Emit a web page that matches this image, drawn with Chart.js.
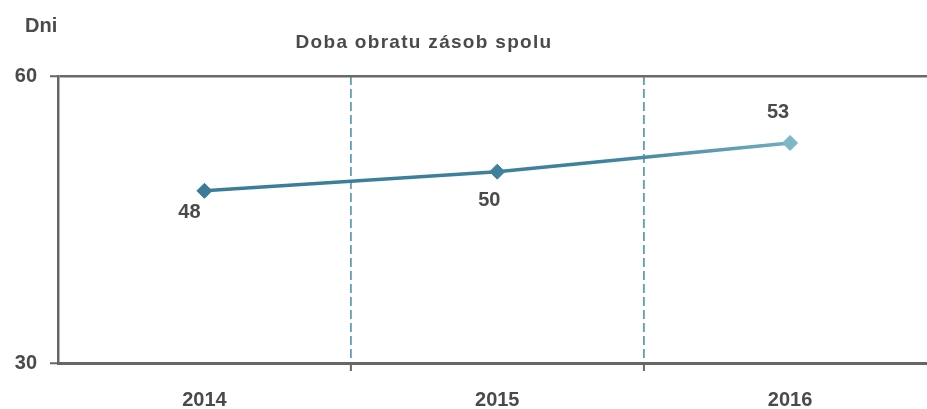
<!DOCTYPE html>
<html>
<head>
<meta charset="utf-8">
<script src="https://cdn.jsdelivr.net/npm/chart.js@4.4.0/dist/chart.umd.min.js"></script>
<style>
  html, body { margin: 0; padding: 0; background: #ffffff; overflow: hidden; width: 927px; height: 409px; }
  #c { display: block; }
</style>
</head>
<body>
<canvas id="c" width="945" height="409" style="width:945px;height:409px"></canvas>
<script>
const categories = ['2014', '2015', '2016'];
const values = [48, 50, 53];
const yTicks = [30, 60];
const titleText = 'Doba obratu zásob spolu';
const unitText = 'Dni';

const textColor = '#4a4a4a';
const family = '"Liberation Sans", Arial, sans-serif';

const labelOffsets = [[-15, 22], [-8, 29], [-12, -30]];

const overlay = {
  id: 'overlay',
  afterDraw(chart) {
    const ctx = chart.ctx;
    ctx.save();
    ctx.fillStyle = textColor;
    ctx.textBaseline = 'middle';
    ctx.font = 'bold 20px ' + family;
    ctx.textAlign = 'left';
    ctx.fillText(unitText, 25, 26);
    ctx.font = 'bold 19px ' + family;
    ctx.textAlign = 'center';
    try { ctx.letterSpacing = '1.3px'; } catch (e) {}
    ctx.fillText(titleText, 424, 43);
    try { ctx.letterSpacing = '0px'; } catch (e) {}
    ctx.font = 'bold 20px ' + family;
    const meta = chart.getDatasetMeta(0);
    meta.data.forEach((pt, i) => {
      const o = labelOffsets[i];
      ctx.fillText(String(values[i]), pt.x + o[0], pt.y + o[1]);
    });
    ctx.restore();
  }
};

new Chart(document.getElementById('c'), {
  type: 'line',
  data: {
    labels: categories,
    datasets: [{
      data: values,
      borderColor: (c) => {
        const ca = c.chart.chartArea;
        if (!ca) return '#3e7f9a';
        const g = c.chart.ctx.createLinearGradient(ca.left, 0, ca.right, 0);
        g.addColorStop(0, '#3a7b98');
        g.addColorStop(0.62, '#3f829d');
        g.addColorStop(0.84, '#72aebf');
        g.addColorStop(1, '#7db6c6');
        return g;
      },
      borderWidth: 3.5,
      pointStyle: 'rectRot',
      pointRadius: 7.5,
      pointBackgroundColor: ['#3a7b98', '#3f809c', '#7db6c6'],
      pointBorderColor: ['#3a7b98', '#3f809c', '#7db6c6'],
      pointBorderWidth: 1,
      tension: 0,
      fill: false
    }]
  },
  options: {
    responsive: false,
    maintainAspectRatio: false,
    animation: false,
    devicePixelRatio: 1,
    layout: { padding: { top: 76, right: 4, bottom: 0, left: 0 } },
    plugins: { legend: { display: false }, title: { display: false }, tooltip: { enabled: false } },
    scales: {
      x: {
        offset: true,
        afterFit: (s) => { s.height = 46; },
        grid: {
          offset: true,
          drawOnChartArea: true,
          color: (c) => c.index === 0 ? 'rgba(0,0,0,0)' : '#5f9fb4',
          lineWidth: 1.8,
          tickColor: (c) => c.index === 0 ? 'rgba(0,0,0,0)' : '#666666',
          tickLength: 8,
          tickWidth: 2,
          tickBorderDash: []
        },
        border: { display: true, color: '#666666', width: 3, dash: [9, 4] },
        ticks: {
          color: textColor,
          font: { family: family, size: 20, weight: 'bold' },
          padding: 17
        }
      },
      y: {
        min: 30,
        max: 60,
        afterFit: (s) => { s.width = 58; },
        afterBuildTicks: (s) => { s.ticks = yTicks.map(v => ({ value: v })); },
        grid: {
          color: (c) => c.tick && c.tick.value === 60 ? '#6a6a6a' : 'rgba(0,0,0,0)',
          lineWidth: 2.5,
          tickColor: '#666666',
          tickLength: 8,
          tickWidth: 2
        },
        border: { display: true, color: '#666666', width: 2.5 },
        ticks: {
          color: textColor,
          font: { family: family, size: 20, weight: 'bold' },
          padding: 13
        }
      }
    }
  },
  plugins: [overlay]
});
</script>
</body>
</html>
